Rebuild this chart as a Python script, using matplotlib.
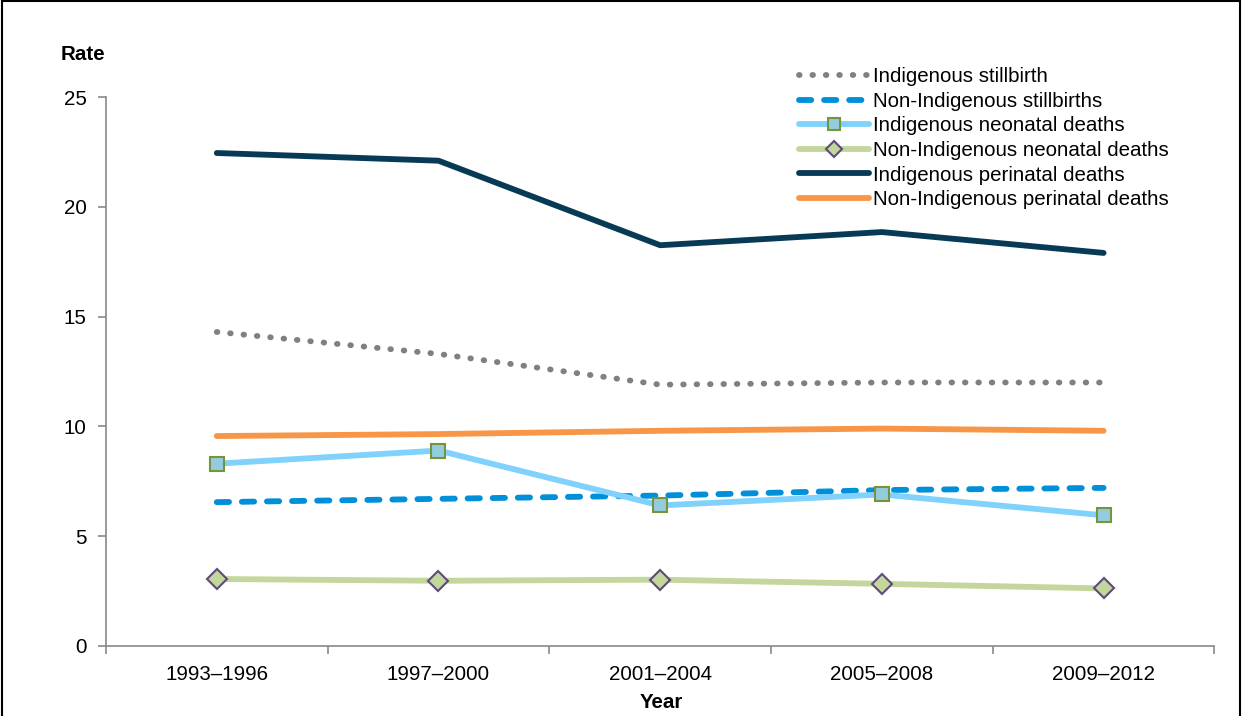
import matplotlib.pyplot as plt
from matplotlib.patches import Rectangle

plt.rcParams['font.family'] = ['Liberation Sans', 'DejaVu Sans']

# Data
periods = ['1993–1996', '1997–2000', '2001–2004', '2005–2008', '2009–2012']
indig_stillbirth = [14.3, 13.3, 11.9, 12.0, 12.0]
non_indig_stillbirth = [6.55, 6.7, 6.85, 7.1, 7.2]
indig_neonatal = [8.3, 8.9, 6.4, 6.9, 5.95]
non_indig_neonatal = [3.05, 2.97, 3.02, 2.83, 2.62]
indig_perinatal = [22.45, 22.1, 18.25, 18.85, 17.9]
non_indig_perinatal = [9.56, 9.65, 9.8, 9.9, 9.8]

x = list(range(len(periods)))
fs = 14.8
lw = 4.2

fig = plt.figure(figsize=(12.42, 7.16), dpi=100)
ax = fig.add_axes([0.0853, 0.0978, 0.8925, 0.7667])

# frame around the whole figure
fig.patches.append(Rectangle((0.0015, -0.01), 0.997, 1.008, transform=fig.transFigure,
                             fill=False, edgecolor='black', linewidth=1.5))

ax.plot(x, indig_stillbirth, color='#808080', linewidth=lw, linestyle=(0, (0.1, 2.2)),
        dash_capstyle='round', solid_capstyle='round', label='Indigenous stillbirth')
ax.plot(x, non_indig_stillbirth, color='#0090DA', linewidth=lw, linestyle=(0, (2.1, 2.2)),
        dash_capstyle='round', label='Non-Indigenous stillbirths')
ax.plot(x, indig_neonatal, color='#80D2FD', linewidth=lw, marker='s', markersize=10,
        markerfacecolor='#93CDDD', markeredgecolor='#77933C', markeredgewidth=1.5,
        solid_capstyle='round', label='Indigenous neonatal deaths')
ax.plot(x, non_indig_neonatal, color='#C3D69B', linewidth=lw, marker='D', markersize=10,
        markerfacecolor='#C3D69B', markeredgecolor='#604A7B', markeredgewidth=1.5,
        solid_capstyle='round', label='Non-Indigenous neonatal deaths')
ax.plot(x, indig_perinatal, color='#073A55', linewidth=lw, solid_capstyle='round',
        label='Indigenous perinatal deaths')
ax.plot(x, non_indig_perinatal, color='#F79646', linewidth=lw, solid_capstyle='round',
        label='Non-Indigenous perinatal deaths')

ax.set_xlim(-0.5, 4.5)
ax.set_ylim(0, 25)
ax.set_yticks([0, 5, 10, 15, 20, 25])
ax.set_xticks(x)
ax.set_xticklabels(periods)
ax.set_xticks([i - 0.5 for i in range(len(periods) + 1)], minor=True)
ax.tick_params(axis='x', which='major', length=0, pad=14, labelsize=fs)
ax.tick_params(axis='x', which='minor', length=6, color='#898989', width=1.2, direction='out')
ax.tick_params(axis='y', length=6, color='#898989', width=1.2, pad=8, labelsize=fs)

for s in ['top', 'right']:
    ax.spines[s].set_visible(False)
for s in ['left', 'bottom']:
    ax.spines[s].set_color('#898989')
    ax.spines[s].set_linewidth(1.2)

fig.text(83 / 1242, 1 - 55 / 716, 'Rate', ha='center', va='center', fontsize=fs, fontweight='bold')
fig.text(661 / 1242, 1 - 703 / 716, 'Year', ha='center', va='center', fontsize=fs, fontweight='bold')

ax.legend(loc='upper left', bbox_to_anchor=(0.6175, 1.069), frameon=False, fontsize=fs,
          handlelength=3.4, handletextpad=0.2, labelspacing=0.27, borderaxespad=0,
          markerscale=0.8)

fig.savefig('out.png', dpi=100)
